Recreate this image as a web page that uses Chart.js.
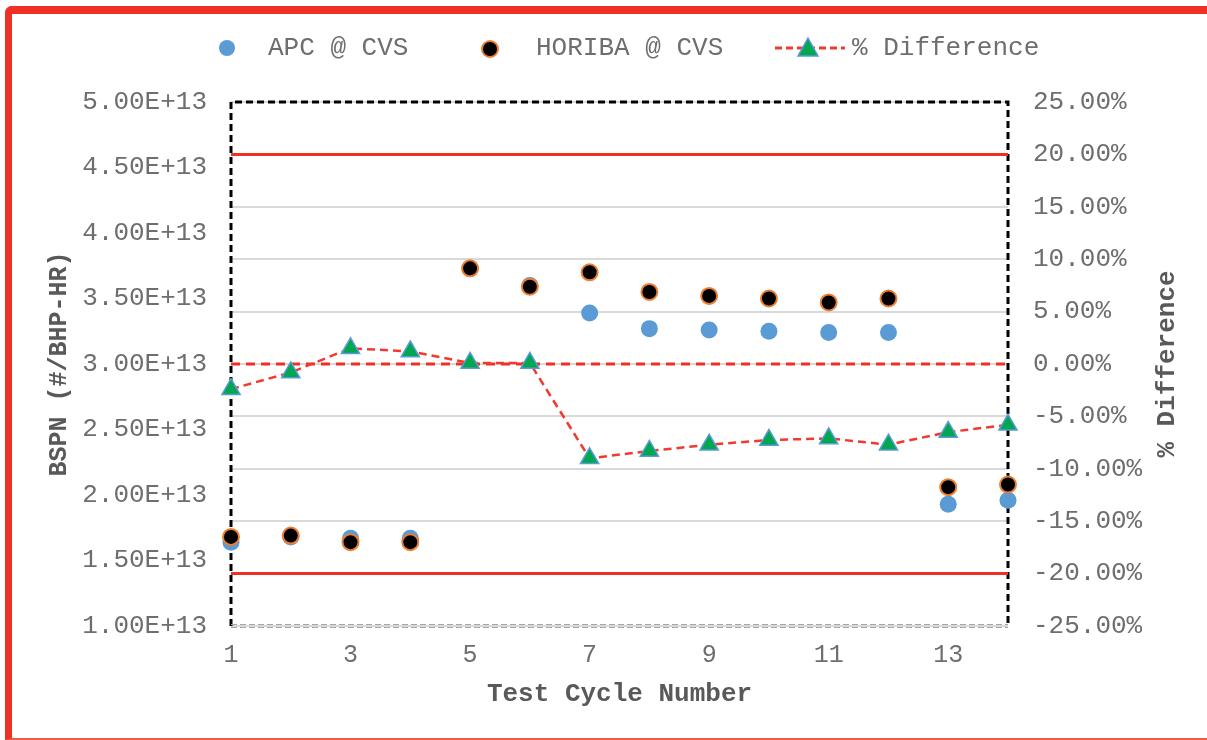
<!DOCTYPE html>
<html>
<head>
<meta charset="utf-8">
<script src="https://cdn.jsdelivr.net/npm/chart.js@4.4.1/dist/chart.umd.min.js"></script>
<style>
  html,body{margin:0;padding:0;background:#fff;overflow:hidden;width:1207px;height:740px}
  #wrap{position:relative;width:1207px;height:740px}
  canvas{position:absolute;left:0;top:0}
  .frame{position:absolute;left:5px;top:6px;width:1320px;height:724px;border-top:8px solid #ee3124;border-left:7px solid #ee3124;border-bottom:2px solid #ef5a4a;border-top-left-radius:7px;pointer-events:none}
  .lg{position:absolute;top:48px;transform:translateY(-50%);font:26px 'Liberation Mono','Courier New',monospace;color:#6e6e6e;white-space:pre}
  .dot{position:absolute;width:16px;height:16px;border-radius:50%;top:40px}
  .ytitle2{position:absolute;left:1167px;top:364px;transform:translate(-50%,-50%) rotate(-90deg);font:bold 26px 'Liberation Mono','Courier New',monospace;color:#595959;white-space:pre}
</style>
</head>
<body>
<div id="wrap">
  <canvas id="c" width="1207" height="740"></canvas>
  <div class="frame"></div>

  <!-- legend -->
  <div class="dot" style="left:219px;background:#5b9bd5"></div>
  <div class="lg" style="left:268px">APC @ CVS</div>
  <div class="dot" style="left:481px;width:14px;height:14px;background:#000;border:2px solid #ed7d31"></div>
  <div class="lg" style="left:536px">HORIBA @ CVS</div>
  <svg style="position:absolute;left:772px;top:36px" width="76" height="24">
    <line x1="3" y1="12" x2="73" y2="12" stroke="#f03a30" stroke-width="3" stroke-dasharray="7,4"/>
    <polygon points="36,2 46,20 26,20" fill="#00a650" stroke="#5b9bd5" stroke-width="1.5"/>
  </svg>
  <div class="lg" style="left:852px">% Difference</div>

  <div class="ytitle2">% Difference</div>
</div>

<script>
/* ── Data ── */
const cycles    = [1,2,3,4,5,6,7,8,9,10,11,12,13,14];
const apcCvs    = [1.64e13,1.68e13,1.67e13,1.67e13,3.73e13,3.60e13,3.39e13,3.27e13,3.26e13,3.25e13,3.24e13,3.24e13,1.93e13,1.96e13];
const horibaCvs = [1.68e13,1.69e13,1.64e13,1.64e13,3.73e13,3.59e13,3.70e13,3.55e13,3.52e13,3.50e13,3.47e13,3.50e13,2.06e13,2.08e13];
const pctDiff   = [-2.4,-0.8,1.5,1.2,0.1,0.1,-9.0,-8.3,-7.7,-7.25,-7.1,-7.7,-6.5,-5.8];
const limitPct  = [20,-20];
const zeroPct   = 0;
const xTicks    = [1,3,5,7,9,11,13];

const FONT = "'Liberation Mono','Courier New',monospace";
const RED  = '#ee3124';
const TXT  = '#6e6e6e';

const pts = arr => cycles.map((x,i)=>({x, y:arr[i]}));
const hline = v => [{x:cycles[0], y:v},{x:cycles[cycles.length-1], y:v}];

/* dashed frame round the plot area */
const boxPlugin = {
  id:'box',
  beforeDatasetsDraw(chart){
    const {ctx, chartArea:a} = chart;
    ctx.save();
    ctx.lineWidth = 3;
    ctx.strokeStyle = '#000';
    ctx.setLineDash([7,4]);
    ctx.beginPath();
    ctx.moveTo(a.left, a.bottom); ctx.lineTo(a.left, a.top);
    ctx.lineTo(a.right, a.top); ctx.lineTo(a.right, a.bottom);
    ctx.stroke();
    ctx.lineWidth = 1.2;
    ctx.strokeStyle = '#a6a6a6';
    ctx.setLineDash([6,3]);
    [-1.5,1.5].forEach(d=>{
      ctx.beginPath(); ctx.moveTo(a.left, a.bottom+d); ctx.lineTo(a.right, a.bottom+d); ctx.stroke();
    });
    ctx.restore();
  }
};

new Chart(document.getElementById('c'), {
  type:'scatter',
  data:{
    datasets:[
      { label:'upper', data:hline(limitPct[0]), yAxisID:'y2', showLine:true, borderColor:RED, borderWidth:3, pointRadius:0, order:5 },
      { label:'lower', data:hline(limitPct[1]), yAxisID:'y2', showLine:true, borderColor:RED, borderWidth:3, pointRadius:0, order:5 },
      { label:'zero',  data:hline(zeroPct), yAxisID:'y2', showLine:true, borderColor:RED, borderWidth:3, borderDash:[9,6], pointRadius:0, order:5 },
      { label:'APC @ CVS', data:pts(apcCvs), yAxisID:'y', backgroundColor:'#5b9bd5', borderColor:'#5b9bd5', borderWidth:0, pointRadius:8.5, order:3, clip:false },
      { label:'HORIBA @ CVS', data:pts(horibaCvs), yAxisID:'y', backgroundColor:'#000', borderColor:'#ed7d31', borderWidth:2, pointRadius:8, order:2, clip:false },
      { label:'% Difference', data:pts(pctDiff), yAxisID:'y2', showLine:true, borderColor:'#f03a30', borderWidth:2.5, borderDash:[8,5],
        pointStyle:'triangle', pointRadius:10.5, pointBackgroundColor:'#00a650', pointBorderColor:'#5b9bd5', pointBorderWidth:1.5, order:1, clip:false }
    ]
  },
  options:{
    responsive:false,
    animation:false,
    layout:{ padding:{ top:102, left:0, right:0, bottom:0 } },
    plugins:{ legend:{ display:false }, tooltip:{ enabled:false } },
    scales:{
      x:{
        type:'linear', min:1, max:14,
        grid:{ display:false, drawTicks:false },
        border:{ display:false },
        afterBuildTicks: s => { s.ticks = xTicks.map(v=>({value:v})); },
        afterFit: s => { s.height = 114; },
        ticks:{ color:TXT, font:{ family:FONT, size:25 }, padding:14, maxRotation:0 },
        title:{ display:true, text:'Test Cycle Number', color:'#595959', font:{ family:FONT, size:26, weight:'bold' }, padding:{ top:0, bottom:30 } }
      },
      y:{
        position:'left', min:1e13, max:5e13,
        grid:{ display:false, drawTicks:false },
        border:{ display:false },
        afterFit: s => { s.width = 231; },
        ticks:{ stepSize:0.5e13, color:TXT, font:{ family:FONT, size:26 }, padding:24,
                callback: v => Number(v).toExponential(2).toUpperCase() },
        title:{ display:true, text:'BSPN (#/BHP-HR)', color:'#595959', font:{ family:FONT, size:25, weight:'bold' }, padding:{ top:45, bottom:0 } }
      },
      y2:{
        position:'right', min:-25, max:25,
        grid:{ color:'#d9d9d9', lineWidth:2, drawTicks:false },
        border:{ display:false },
        afterFit: s => { s.width = 199; },
        ticks:{ stepSize:5, color:TXT, font:{ family:FONT, size:26 }, padding:25,
                callback: v => Number(v).toFixed(2)+'%' }
      }
    }
  },
  plugins:[boxPlugin]
});
</script>
</body>
</html>
